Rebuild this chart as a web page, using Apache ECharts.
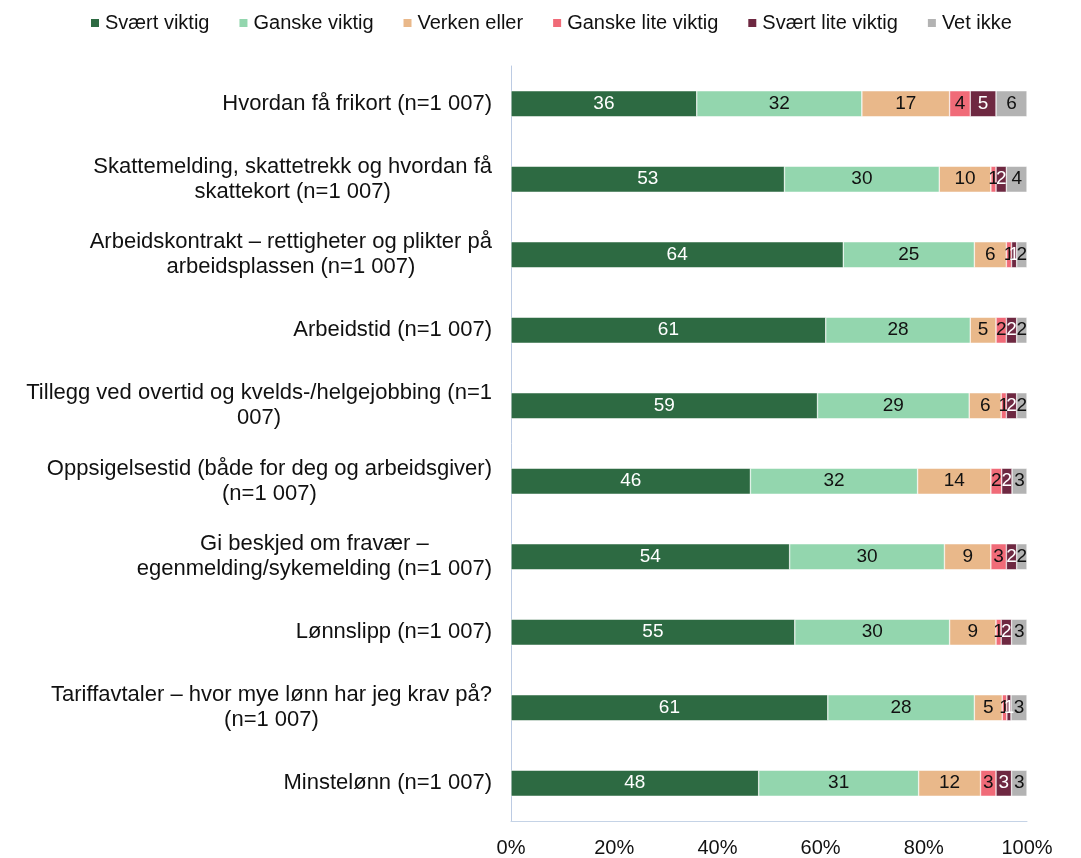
<!DOCTYPE html>
<html><head><meta charset="utf-8">
<script src="https://cdn.jsdelivr.net/npm/echarts@6/dist/echarts.min.js"></script>
<style>html,body{margin:0;padding:0;background:#fff}#c{width:1081px;height:858px}</style>
</head><body><div id="c"></div>
<script>
const categories = [
  "Hvordan få frikort (n=1 007)",
  "Skattemelding, skattetrekk og hvordan få\nskattekort (n=1 007)",
  "Arbeidskontrakt – rettigheter og plikter på\narbeidsplassen (n=1 007)",
  "Arbeidstid (n=1 007)",
  "Tillegg ved overtid og kvelds-/helgejobbing (n=1\n007)",
  "Oppsigelsestid (både for deg og arbeidsgiver)\n(n=1 007)",
  "Gi beskjed om fravær –\negenmelding/sykemelding (n=1 007)",
  "Lønnslipp (n=1 007)",
  "Tariffavtaler – hvor mye lønn har jeg krav på?\n(n=1 007)",
  "Minstelønn (n=1 007)"
];
const seriesNames = ["Svært viktig","Ganske viktig","Verken eller","Ganske lite viktig","Svært lite viktig","Vet ikke"];
const svaertViktig   = [36, 53, 64.4, 61, 59.4, 46.4, 54, 55, 61.4, 48];
const ganskeViktig   = [32, 30, 25.4, 28, 29.4, 32.4, 30, 30, 28.4, 31];
const verkenEller    = [17, 10, 6.2, 5, 6.2, 14.2, 9, 9, 5.4, 12];
const ganskeLite     = [4, 1, 1.0, 2, 1.0, 2.1, 3, 1, 0.9, 3];
const svaertLite     = [5, 2, 1.0, 2, 2.0, 2.0, 2, 2, 0.8, 3];
const vetIkke        = [6, 4, 2.0, 2, 2.0, 2.9, 2, 3, 3.1, 3];
const xTicks = [0, 20, 40, 60, 80, 100];

const colors = ["#2D6A42","#93D6AE","#E9B88A","#F06B78","#6E2841","#B3B3B3"];
const labelColors = ["#fff","#111","#111","#111","#fff","#111"];
const allData = [svaertViktig, ganskeViktig, verkenEller, ganskeLite, svaertLite, vetIkke];

const chart = echarts.init(document.getElementById('c'));
chart.setOption({
  animation: false,
  textStyle: {fontFamily: "'Liberation Sans', Arial, sans-serif"},
  color: colors,
  legend: {
    top: 8, left: 84,
    itemWidth: 10, itemHeight: 10, itemGap: 28,
    icon: 'rect',
    textStyle: {fontSize: 20, color: '#111'},
    data: seriesNames
  },
  grid: {left: 511, right: 54, top: 66, bottom: 36, containLabel: false},
  xAxis: {
    type: 'value', min: xTicks[0], max: xTicks[xTicks.length - 1], interval: 20,
    axisLine: {show: true, onZero: false, lineStyle: {color: '#C5D3E6', width: 1}},
    axisTick: {show: false}, splitLine: {show: false},
    axisLabel: {fontSize: 20, color: '#111', margin: 17, formatter: v => v + '%'}
  },
  yAxis: {
    type: 'category', inverse: true, data: categories,
    axisLine: {show: true, lineStyle: {color: '#BCCBE3', width: 1}},
    axisTick: {show: false},
    axisLabel: {
      fontSize: 22, color: '#111', margin: 19, lineHeight: 25, align: 'right',
      formatter: v => v.split('\n').map(l => '{c|' + l + '}').join('\n'),
      rich: {c: {align: 'center', fontSize: 22, lineHeight: 25, color: '#111'}}
    }
  },
  series: seriesNames.map((n, i) => ({
    name: n, type: 'bar', stack: 'all', barWidth: 26,
    data: allData[i],
    itemStyle: {color: colors[i], borderColor: '#fff', borderWidth: 0.5},
    label: {
      show: true, position: 'inside', fontSize: 19, color: labelColors[i],
      formatter: p => Math.round(p.value)
    }
  }))
});
</script></body></html>
